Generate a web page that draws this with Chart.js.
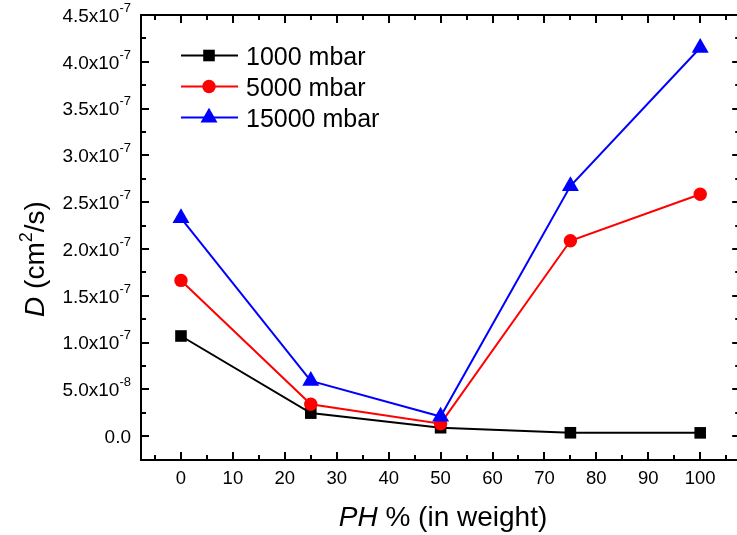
<!DOCTYPE html>
<html>
<head>
<meta charset="utf-8">
<script src="https://cdn.jsdelivr.net/npm/chart.js@4/dist/chart.umd.min.js"></script>
<style>
  html, body { margin: 0; padding: 0; background: #fff; overflow: hidden; }
  #wrap { width: 750px; height: 535px; }
</style>
</head>
<body>
<div id="wrap"><canvas id="c" width="750" height="535"></canvas></div>
<script>
// PH content (wt %) on x, diffusion coefficient D (cm^2/s) on y
const phWeight = [0, 25, 50, 75, 100];
const d1000 = [1.07e-7, 0.246e-7, 0.09e-7, 0.036e-7, 0.035e-7];
const d5000 = [1.664e-7, 0.34e-7, 0.133e-7, 2.088e-7, 2.585e-7];
const d15000 = [2.33e-7, 0.59e-7, 0.21e-7, 2.673e-7, 4.15e-7];
const seriesNames = ['1000 mbar', '5000 mbar', '15000 mbar'];

// tick labels
const xTickValues = [0, 10, 20, 30, 40, 50, 60, 70, 80, 90, 100];
const yTickValues = [0, 0.5e-7, 1.0e-7, 1.5e-7, 2.0e-7, 2.5e-7, 3.0e-7, 3.5e-7, 4.0e-7, 4.5e-7];
const yTickLabels = ['0.0', '5.0x10^-8', '1.0x10^-7', '1.5x10^-7', '2.0x10^-7',
                     '2.5x10^-7', '3.0x10^-7', '3.5x10^-7', '4.0x10^-7', '4.5x10^-7'];

const FONT = '"Liberation Sans", Arial, sans-serif';

function pts(vals) {
  return phWeight.map((x, i) => ({ x, y: vals[i] }));
}

// same geometry as Chart.js point styles, used for the legend
function marker(ctx, style, x, y, r, color) {
  ctx.save();
  ctx.fillStyle = color;
  ctx.beginPath();
  if (style === 'rect') {
    const s = Math.SQRT1_2 * r;
    ctx.rect(x - s, y - s, 2 * s, 2 * s);
  } else if (style === 'triangle') {
    for (let k = 0; k < 3; k++) {
      const a = k * 2 * Math.PI / 3;
      const px = x + Math.sin(a) * r, py = y - Math.cos(a) * r;
      k ? ctx.lineTo(px, py) : ctx.moveTo(px, py);
    }
    ctx.closePath();
  } else {
    ctx.arc(x, y, r, 0, Math.PI * 2);
  }
  ctx.fill();
  ctx.restore();
}

const framePlugin = {
  id: 'originFrame',
  afterDatasetsDraw(chart) {
    const { ctx, chartArea: a, scales } = chart;
    const xs = scales.x, ys = scales.y;
    ctx.save();
    ctx.strokeStyle = '#000';
    ctx.lineWidth = 2;
    ctx.strokeRect(a.left, a.top, a.right - a.left, a.bottom - a.top);

    // inward ticks on all four sides
    ctx.beginPath();
    for (let v = -5; v <= 105; v += 5) {
      const px = Math.round(xs.getPixelForValue(v));
      if (px <= a.left || px >= a.right) continue;
      const len = v % 10 === 0 ? 8 : 5;
      ctx.moveTo(px, a.bottom); ctx.lineTo(px, a.bottom - len);
      ctx.moveTo(px, a.top); ctx.lineTo(px, a.top + len);
    }
    for (let k = 0; k <= 18; k++) {
      const v = k * 0.25e-7;
      const py = Math.round(ys.getPixelForValue(v));
      if (py >= a.bottom || py < a.top) continue;
      const len = k % 2 === 0 ? 8 : 5;
      ctx.moveTo(a.left, py); ctx.lineTo(a.left + len, py);
      ctx.moveTo(a.right, py); ctx.lineTo(a.right - len, py);
    }
    ctx.stroke();

    // x tick labels
    ctx.fillStyle = '#000';
    ctx.font = '18.5px ' + FONT;
    ctx.textAlign = 'center';
    ctx.textBaseline = 'alphabetic';
    xTickValues.forEach(v => {
      ctx.fillText(String(v), xs.getPixelForValue(v), a.bottom + 24);
    });

    // y tick labels with superscript exponent
    ctx.textAlign = 'left';
    const rightEdge = 131;
    yTickValues.forEach((v, i) => {
      const py = ys.getPixelForValue(v) + 6.8;
      const parts = yTickLabels[i].split('^');
      ctx.font = '13px ' + FONT;
      const ew = parts[1] ? ctx.measureText(parts[1]).width : 0;
      ctx.font = '19px ' + FONT;
      const mw = ctx.measureText(parts[0]).width;
      ctx.fillText(parts[0], rightEdge - ew - mw, py);
      if (parts[1]) {
        ctx.font = '13px ' + FONT;
        ctx.fillText(parts[1], rightEdge - ew, py - 10);
      }
    });

    // x axis title: "PH % (in weight)"
    const xt = [['italic 28px ', 'PH'], ['28px ', ' % (in weight)']];
    let tw = 0;
    xt.forEach(s => { ctx.font = s[0] + FONT; tw += ctx.measureText(s[1]).width; });
    let cx = 443 - tw / 2;
    xt.forEach(s => {
      ctx.font = s[0] + FONT;
      ctx.fillText(s[1], cx, 526);
      cx += ctx.measureText(s[1]).width;
    });

    // y axis title: "D (cm²/s)", rotated
    ctx.save();
    ctx.translate(44, 259);
    ctx.rotate(-Math.PI / 2);
    const yt = [['italic 28px ', 'D', 0], ['28px ', ' (cm', 0], ['18px ', '2', -12], ['28px ', '/s)', 0]];
    tw = 0;
    yt.forEach(s => { ctx.font = s[0] + FONT; tw += ctx.measureText(s[1]).width; });
    cx = -tw / 2;
    yt.forEach(s => {
      ctx.font = s[0] + FONT;
      ctx.fillText(s[1], cx, s[2]);
      cx += ctx.measureText(s[1]).width;
    });
    ctx.restore();

    // legend
    const rows = [55.5, 86.5, 117.5];
    chart.data.datasets.forEach((ds, i) => {
      const y = rows[i];
      ctx.strokeStyle = ds.borderColor;
      ctx.lineWidth = 2;
      ctx.beginPath();
      ctx.moveTo(181, y); ctx.lineTo(238, y);
      ctx.stroke();
      marker(ctx, ds.pointStyle, 209, y, ds.pointRadius, ds.borderColor);
      ctx.fillStyle = '#000';
      ctx.font = '25px ' + FONT;
      ctx.fillText(ds.label, 246, y + 9);
    });
    ctx.restore();
  }
};

new Chart(document.getElementById('c'), {
  type: 'line',
  data: {
    datasets: [
      { label: seriesNames[0], data: pts(d1000), borderColor: '#000000', backgroundColor: '#000000',
        pointStyle: 'rect', pointRadius: 8.2, order: 3 },
      { label: seriesNames[1], data: pts(d5000), borderColor: '#ff0000', backgroundColor: '#ff0000',
        pointStyle: 'circle', pointRadius: 6.7, order: 2 },
      { label: seriesNames[2], data: pts(d15000), borderColor: '#0000ff', backgroundColor: '#0000ff',
        pointStyle: 'triangle', pointRadius: 9.8, order: 1 }
    ].map(ds => Object.assign(ds, {
      borderWidth: 2, pointBorderWidth: 0, pointHoverRadius: ds.pointRadius,
      tension: 0, clip: false, fill: false
    }))
  },
  options: {
    responsive: false,
    animation: false,
    events: [],
    layout: { padding: { left: 141, top: 15, right: 7, bottom: 75 } },
    plugins: { legend: { display: false }, tooltip: { enabled: false } },
    scales: {
      x: { type: 'linear', display: false, min: -7.7, max: 107.7 },
      y: { type: 'linear', display: false, min: -0.255e-7, max: 4.5e-7 }
    }
  },
  plugins: [framePlugin]
});
</script>
</body>
</html>
